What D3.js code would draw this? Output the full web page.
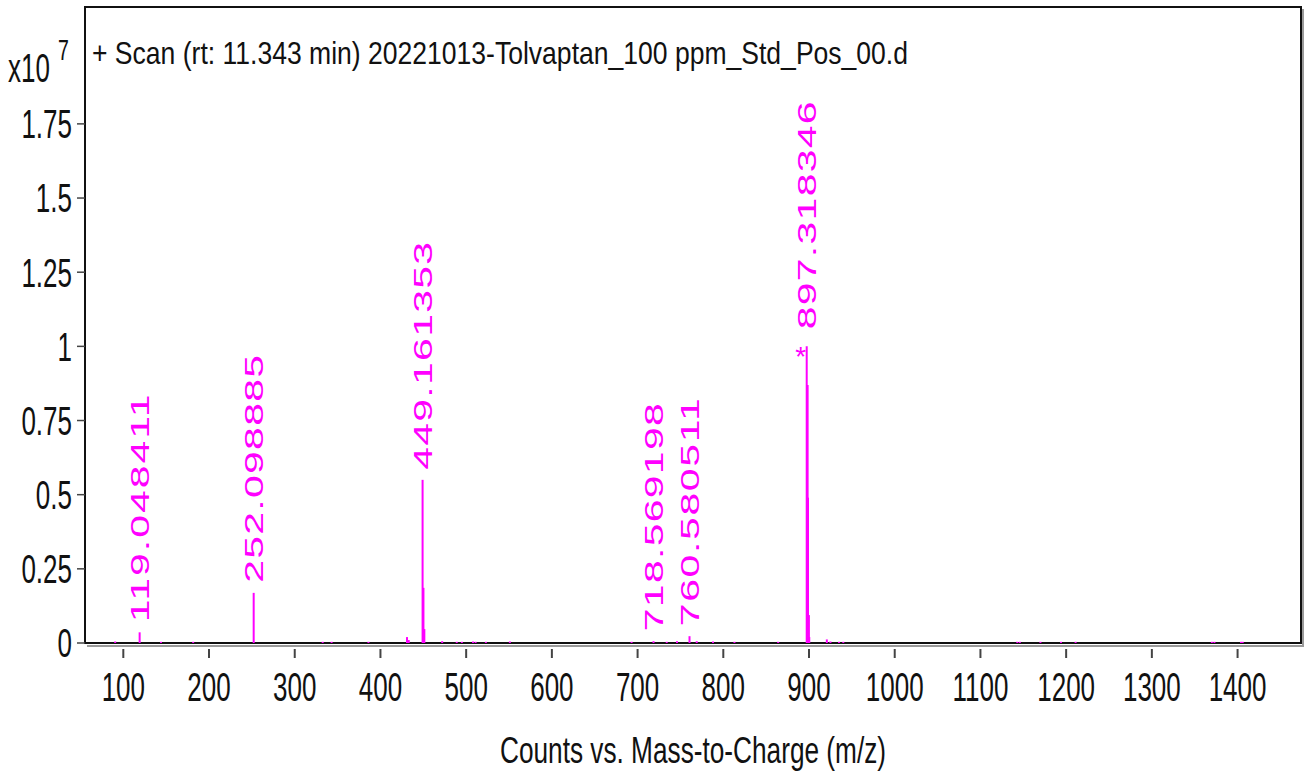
<!DOCTYPE html>
<html>
<head>
<meta charset="utf-8">
<script src="https://cdn.jsdelivr.net/npm/d3@7/dist/d3.min.js"></script>
<style>
  html, body { margin: 0; padding: 0; background: #fff; }
  svg text { font-family: "Liberation Sans", Arial, sans-serif; }
</style>
</head>
<body>
<svg id="chart" width="1304" height="773"></svg>
<script>
// spectrum peaks: m/z and counts (x10^7)
const peakMz = [90.5, 119.05, 144, 181.5, 252.1, 332.6, 343, 386, 431, 433,
    449.16, 450.16, 451.2, 472, 489, 495, 508, 511, 523, 551,
    693, 718.57, 734, 746, 760.58, 769, 788, 813, 864,
    897.32, 897.8, 898.32, 898.8, 899.32, 899.8, 900.3, 920.8, 925, 935, 940,
    1143, 1146, 1170, 1194, 1211, 1370, 1373, 1404, 1406];
const peakCounts = [0.005, 0.036, 0.004, 0.004, 0.169, 0.004, 0.004, 0.004, 0.02, 0.01,
    0.55, 0.186, 0.047, 0.006, 0.004, 0.004, 0.005, 0.004, 0.004, 0.005,
    0.004, 0.006, 0.004, 0.006, 0.023, 0.006, 0.005, 0.004, 0.004,
    1.0, 0.87, 0.87, 0.49, 0.094, 0.094, 0.02, 0.012, 0.005, 0.004, 0.004,
    0.004, 0.004, 0.004, 0.004, 0.004, 0.004, 0.004, 0.004, 0.004];

// labelled peaks
const labelMz = [119.048411, 252.098885, 449.161353, 718.569198, 760.580511, 897.318346];
const labelCounts = [0.036, 0.169, 0.55, 0.006, 0.023, 1.0];
const labelStar = [false, false, false, false, false, true];

const xTicks = d3.range(100, 1401, 100);
const yTicks = [0, 0.25, 0.5, 0.75, 1, 1.25, 1.5, 1.75];

const title = '+ Scan (rt: 11.343 min) 20221013-Tolvaptan_100 ppm_Std_Pos_00.d';
const xTitle = 'Counts vs. Mass-to-Charge (m/z)';

const magenta = '#ff00ff';
const sx = 0.65; // condensed glyphs
const box = {left: 85, top: 7, right: 1301, bottom: 643};

const svg = d3.select('#chart');

const x = d3.scaleLinear()
    .domain([55.3, 1474])
    .range([box.left, box.right]);
const y = d3.scaleLinear()
    .domain([0, 2.144])
    .range([box.bottom, box.top]);

// frame with grey shadow
svg.append('path')
    .attr('d', `M${box.left + 2},${box.bottom + 3}H${box.right + 2}V${box.top + 2}`)
    .attr('fill', 'none')
    .attr('stroke', '#9a9a9a')
    .attr('stroke-width', 2);
svg.append('rect')
    .attr('x', box.left).attr('y', box.top)
    .attr('width', box.right - box.left).attr('height', box.bottom - box.top)
    .attr('fill', 'none')
    .attr('stroke', '#111')
    .attr('stroke-width', 2);

// x ticks
const xg = svg.append('g');
xg.selectAll('line').data(xTicks).join('line')
    .attr('x1', d => x(d)).attr('x2', d => x(d))
    .attr('y1', box.bottom + 6).attr('y2', box.bottom + 15)
    .attr('stroke', '#444').attr('stroke-width', 2);
xg.selectAll('text').data(xTicks).join('text')
    .attr('transform', d => `translate(${x(d)},701) scale(${sx},1)`)
    .attr('text-anchor', 'middle')
    .attr('font-size', 40)
    .attr('fill', '#111')
    .text(d => d);

// y ticks
const yg = svg.append('g');
yg.selectAll('line').data(yTicks).join('line')
    .attr('x1', box.left - 8).attr('x2', box.left)
    .attr('y1', d => y(d)).attr('y2', d => y(d))
    .attr('stroke', '#444').attr('stroke-width', 1.5);
yg.selectAll('text').data(yTicks).join('text')
    .attr('transform', d => `translate(72,${y(d)}) scale(${sx},1)`)
    .attr('text-anchor', 'end')
    .attr('dy', '0.36em')
    .attr('font-size', 40)
    .attr('fill', '#111')
    .text(d => d);

// exponent
svg.append('text')
    .attr('transform', `translate(8,82) scale(${sx},1)`)
    .attr('font-size', 40)
    .attr('fill', '#111')
    .text('x10');
svg.append('text')
    .attr('transform', `translate(58,60) scale(${sx},1)`)
    .attr('font-size', 30)
    .attr('fill', '#111')
    .text('7');

// titles
svg.append('text')
    .attr('x', 92).attr('y', 64)
    .attr('font-size', 32)
    .attr('textLength', 816)
    .attr('lengthAdjust', 'spacingAndGlyphs')
    .attr('fill', '#111')
    .text(title);
svg.append('text')
    .attr('x', 500).attr('y', 763)
    .attr('font-size', 36)
    .attr('textLength', 386)
    .attr('lengthAdjust', 'spacingAndGlyphs')
    .attr('fill', '#111')
    .text(xTitle);

// peaks
svg.append('g').selectAll('line').data(peakMz).join('line')
    .attr('x1', d => x(d)).attr('x2', d => x(d))
    .attr('y1', y(0)).attr('y2', (d, i) => y(peakCounts[i]))
    .attr('stroke', magenta)
    .attr('stroke-width', 2);

// peak labels
const lg = svg.append('g');
lg.selectAll('text').data(labelMz).join('text')
    .attr('transform', (d, i) => {
        const off = labelStar[i] ? 17 : 10;
        return `translate(${x(d)},${y(labelCounts[i]) - off}) scale(${sx},1) rotate(-90)`;
    })
    .attr('dy', '0.36em')
    .attr('font-size', 41)
    .attr('textLength', 228)
    .attr('lengthAdjust', 'spacing')
    .attr('fill', magenta)
    .text(d => d.toFixed(6));

lg.selectAll('.star').data(labelMz.filter((d, i) => labelStar[i])).join('text')
    .attr('class', 'star')
    .attr('x', d => x(d) - 6)
    .attr('y', (d, i) => y(1.0) + 20)
    .attr('text-anchor', 'middle')
    .attr('font-size', 28)
    .attr('fill', magenta)
    .text('*');
</script>
</body>
</html>
